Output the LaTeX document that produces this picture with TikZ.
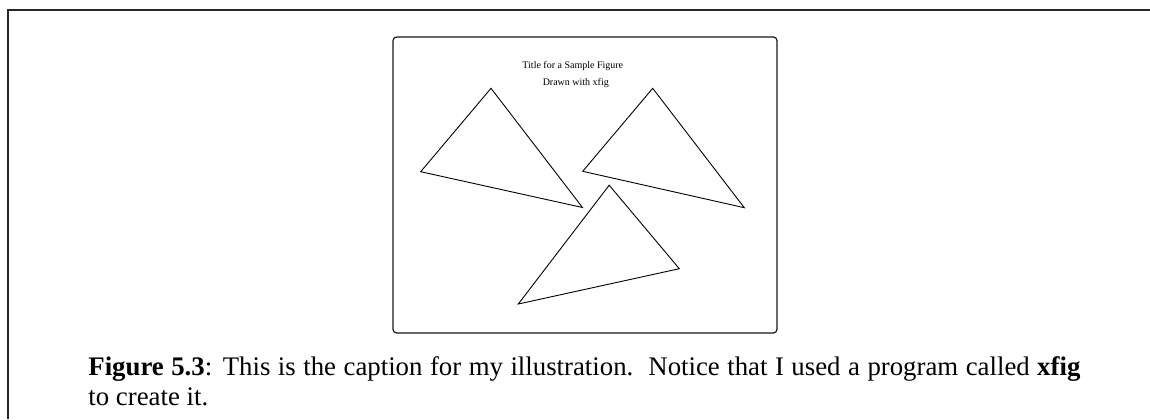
\documentclass[tikz,border=0pt]{standalone}
\usepackage{fontspec}
\setmainfont{Liberation Serif}
\begin{document}
\begin{tikzpicture}[x=0.5pt,y=-0.5pt,
  frameline/.style={line width=0.6pt,draw=black!85},
  figbox/.style={line width=0.6pt,draw=black!90,rounded corners=1.8pt},
  tri/.style={line width=0.45pt,draw=black,line join=miter},
  figtext/.style={inner sep=0pt,font=\fontsize{5}{6}\selectfont,anchor=base},
  captext/.style={inner sep=0pt,font=\fontsize{13.4}{15}\selectfont,anchor=base west}]
\useasboundingbox (0,0) rectangle (1150,419);
% outer frame (clipped page)
\coordinate (fb) at (8,419);
\coordinate (ft) at (8,10);
\coordinate (fr) at (1150,10);
\draw[frameline] (fb) -- (ft) -- (fr);
% figure box
\draw[figbox] (393,37) rectangle (777,333);
% texts
\node[figtext] (title) at (572.8,68.5) {Title for a Sample Figure};
\node[figtext] (sub) at (575.8,85.7) {Drawn with xfig};
% triangles
\draw[tri] (491,88.3) -- (420.7,171.7) -- (582.5,207.5) -- cycle;
\draw[tri] (652.7,88.3) -- (582.7,171.3) -- (744.3,207.7) -- cycle;
\draw[tri] (609.2,185.2) -- (679.3,268.7) -- (518.3,304) -- cycle;
% caption
\node[captext] (cap1) at (88,375.7) {\hbox to 496pt{\textbf{Figure 5.3}: This is the caption for my illustration.\ \ Notice that I used a program called \textbf{xfig}}};
\node[captext] (cap2) at (88,405.3) {to create it.};
\end{tikzpicture}
\end{document}
